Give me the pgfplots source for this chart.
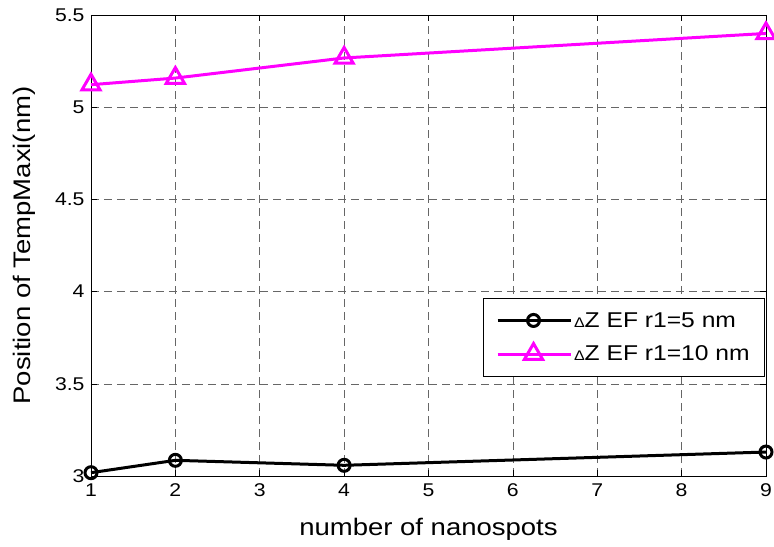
\documentclass[border=0pt]{standalone}
\usepackage{fontspec}
\setmainfont[FakeStretch=1.15]{Liberation Sans}
\usepackage{pgfplots}
\pgfplotsset{compat=1.18}
\definecolor{mag}{RGB}{255,0,255}
\begin{document}
\begin{tikzpicture}
\path[use as bounding box] (-91bp,-71bp) rectangle (683bp,476bp);
\begin{axis}[
  scale only axis,
  width=675bp, height=461bp,
  xmin=1, xmax=9, ymin=3, ymax=5.5,
  xtick={1,2,...,9},
  ytick={3,3.5,4,4.5,5,5.5},
  yticklabels={3,3.5,4,4.5,5,5.5},
  /pgf/number format/assume math mode=true,
  tick label style={font=\fontsize{18.5}{20}\selectfont},
  xticklabel style={yshift=-4bp},
  yticklabel style={xshift=-3bp},
  tick align=inside,
  major tick length=6bp,
  tick style={black, line width=0.6bp},
  axis line style={black, line width=0.8bp},
  grid=major,
  major grid style={black!60, dash pattern=on 8bp off 5bp, line width=0.6bp},
  xlabel={number of nanospots},
  ylabel={Position of TempMaxi(nm)},
  label style={font=\fontsize{24}{26}\selectfont},
  xlabel style={at={(axis description cs:0.5,0)}, anchor=north, yshift=-39bp},
  ylabel style={at={(axis description cs:0,0.5)}, anchor=south, yshift=52bp},
  clip=false,
  legend style={at={(axis description cs:0.9985,0.386)}, anchor=north east,
     draw=black, line width=0.6bp, fill=white,
     font=\fontsize{21.5}{23}\selectfont,
     row sep=13bp, inner xsep=13bp, inner ysep=12bp},
  legend cell align=left,
  legend image code/.code={\draw[mark repeat=2,mark phase=2,#1] plot coordinates {(0bp,0bp) (36bp,0bp) (73bp,0bp)};},
]
\addplot[black, line width=3bp, mark=o, mark size=6bp, mark options={line width=3bp, solid}]
  coordinates {(1,3.018) (2,3.085) (4,3.058) (9,3.13)};
\addlegendentry{{\fontsize{14}{14}\selectfont Δ}Z EF r1=5 nm}
\addplot[mag, line width=3bp, mark=triangle, mark size=10.5bp, mark options={line width=3bp, solid}]
  coordinates {(1,5.122) (2,5.158) (4,5.267) (9,5.40)};
\addlegendentry{{\fontsize{14}{14}\selectfont Δ}Z EF r1=10 nm}
\end{axis}
\end{tikzpicture}
\end{document}
